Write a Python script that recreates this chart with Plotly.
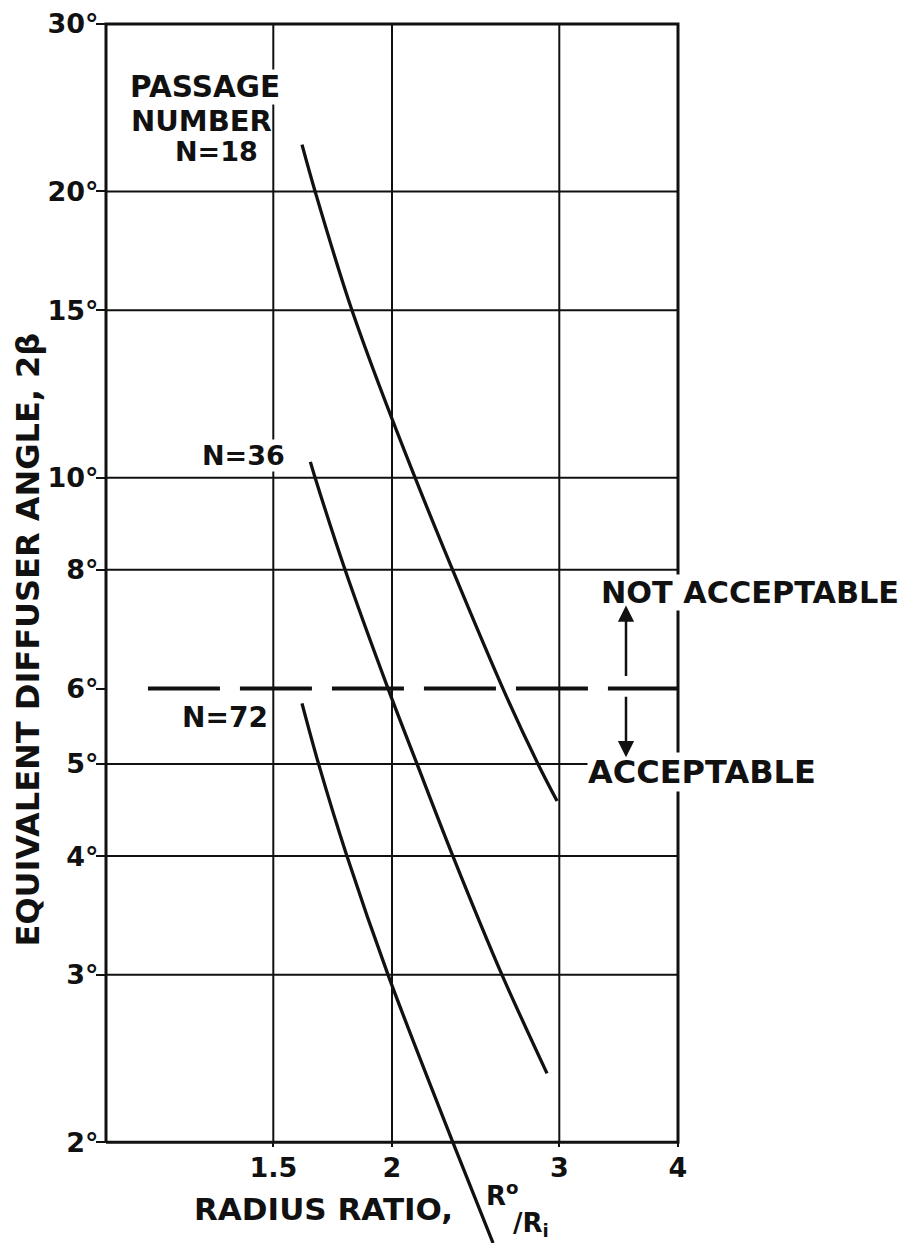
import math
import plotly.graph_objects as go

# ---------------- data ----------------
n18_x = [1.608, 1.660, 1.815, 2.115, 2.617, 2.849, 2.984]
n18_y = [22.4, 20.0, 15.0, 10.0, 6.0, 5.0, 4.57]
n36_x = [1.641, 1.660, 1.785, 1.981, 2.125, 2.318, 2.611, 2.912]
n36_y = [10.39, 10.0, 8.0, 6.0, 5.0, 4.0, 3.0, 2.363]
n72_x = [1.608, 1.674, 1.793, 1.981, 2.318, 2.555]
n72_y = [5.79, 5.0, 4.0, 3.0, 2.0, 1.567]
limit_x = [1.107, 4.0]
limit_y = [6.0, 6.0]

x_tickvals = [1.5, 2, 3, 4]
x_ticktext = ["1.5", "2", "3", "4"]
y_tickvals = [2, 3, 4, 5, 6, 8, 10, 15, 20, 30]
y_ticktext = ["2°", "3°", "4°", "5°", "6°", "8°", "10°", "15°", "20°", "30°"]
x_grid = [1.5, 2, 3]
y_grid = [3, 4, 5, 8, 10, 15, 20]
x_bounds = [1, 4]
y_bounds = [2, 30]

# ---------------- layout geometry ----------------
OFF = 8                      # page body margin
W, H = 906 - OFF, 1243 - OFF
# plot area in page pixels
P_LEFT, P_RIGHT, P_TOP, P_BOT = 100, 684, 15, 1243
ML, MR, MT, MB = P_LEFT - OFF, W - (P_RIGHT - OFF), P_TOP - OFF, H - (P_BOT - OFF)
PW, PH = P_RIGHT - P_LEFT, P_BOT - P_TOP
XS = 950.1   # px per decade
YS = 953.2
xr = [math.log10(x_bounds[0]) - (106 - P_LEFT) / XS, math.log10(x_bounds[1]) + (P_RIGHT - 678) / XS]
yr = [math.log10(y_bounds[1]) - (P_BOT - 21) / YS, math.log10(y_bounds[1]) + (21 - P_TOP) / YS]


def px(x):
    return (x - P_LEFT) / PW


def py(y):
    return (P_BOT - y) / PH


FONT = "DejaVu Sans"
BLACK = "#111111"

fig = go.Figure()

# grid lines and frame (built from tick arrays)
gx, gy = [], []
for v in x_grid:
    gx += [v, v, None]
    gy += [y_bounds[0], y_bounds[1], None]
for v in y_grid:
    gx += [x_bounds[0], x_bounds[1], None]
    gy += [v, v, None]
fig.add_trace(go.Scatter(x=gx, y=gy, mode="lines", line=dict(color=BLACK, width=2),
                         hoverinfo="skip", showlegend=False))
fig.add_trace(go.Scatter(
    x=[x_bounds[0], x_bounds[1], x_bounds[1], x_bounds[0], x_bounds[0]],
    y=[y_bounds[0], y_bounds[0], y_bounds[1], y_bounds[1], y_bounds[0]],
    mode="lines", line=dict(color=BLACK, width=3), hoverinfo="skip", showlegend=False))

# acceptability limit
fig.add_trace(go.Scatter(x=limit_x, y=limit_y, mode="lines",
                         line=dict(color=BLACK, width=4, dash="72px,20px"),
                         name="limit", showlegend=False))

# curves
for nm, xs, ys in [("N=18", n18_x, n18_y), ("N=36", n36_x, n36_y), ("N=72", n72_x, n72_y)]:
    fig.add_trace(go.Scatter(x=xs, y=ys, mode="lines", name=nm,
                             line=dict(color=BLACK, width=3.3, shape="spline", smoothing=0.9),
                             showlegend=False))


def txt(s, x, y, size=28, xanchor="left", bg=None, angle=0):
    d = dict(text=s, x=px(x), y=py(y), xref="paper", yref="paper", showarrow=False,
             xanchor=xanchor, yanchor="middle", textangle=angle,
             font=dict(family=FONT, size=size, color=BLACK, weight="bold"))
    if bg:
        d["bgcolor"] = bg
        d["borderpad"] = 0
    return d


ann = [
    txt("PASSAGE", 129, 84, 29.5, bg="white"),
    txt("NUMBER", 129, 118, 29),
    txt("N=18", 216, 149, 27, xanchor="center"),
    txt("N=36", 243, 454, 27, xanchor="center", bg="white"),
    txt("N=72", 225, 716, 28, xanchor="center"),
    txt("NOT ACCEPTABLE", 600, 591, 30.3, bg="white"),
    txt("ACCEPTABLE", 587, 771, 32, bg="white"),
    txt("EQUIVALENT DIFFUSER ANGLE, 2β", 28, 638, 32, xanchor="center", angle=-90),
    txt("RADIUS RATIO,", 192, 1209, 31),
    txt("R<sup>o</sup>", 484, 1194, 26),
    txt("/R<sub>i</sub>", 511, 1224, 26),
]
# arrows
ann.append(dict(x=px(626), y=py(604), xref="paper", yref="paper", text="", showarrow=True,
                ax=0, ay=72, arrowhead=2, arrowsize=1.3, arrowwidth=2.5, arrowcolor=BLACK, standoff=0))
ann.append(dict(x=px(626), y=py(756), xref="paper", yref="paper", text="", showarrow=True,
                ax=0, ay=-62, arrowhead=2, arrowsize=1.3, arrowwidth=2.5, arrowcolor=BLACK, standoff=0))

tickfont = dict(family=FONT, size=27, color=BLACK, weight="bold")
fig.update_layout(
    width=W, height=H,
    margin=dict(l=ML, r=MR, t=MT, b=MB, pad=0),
    paper_bgcolor="white", plot_bgcolor="white",
    xaxis=dict(type="log", range=xr, showgrid=False, zeroline=False, showline=False,
               tickmode="array", tickvals=x_tickvals, ticktext=x_ticktext,
               ticks="outside", ticklen=4, tickwidth=2, tickcolor=BLACK, tickfont=tickfont,
               ticklabelstandoff=-3, ticklabeloverflow="allow",
               anchor="free", position=(math.log10(y_bounds[0]) - yr[0]) / (yr[1] - yr[0])),
    yaxis=dict(type="log", range=yr, showgrid=False, zeroline=False, showline=False,
               tickmode="array", tickvals=y_tickvals, ticktext=y_ticktext,
               ticks="outside", ticklen=10, tickwidth=2, tickcolor=BLACK, tickfont=tickfont,
               ticklabelstandoff=-8, ticklabeloverflow="allow",
               anchor="free", position=(math.log10(x_bounds[0]) - xr[0]) / (xr[1] - xr[0])),
    annotations=ann,
)

fig.write_html("out.html")
